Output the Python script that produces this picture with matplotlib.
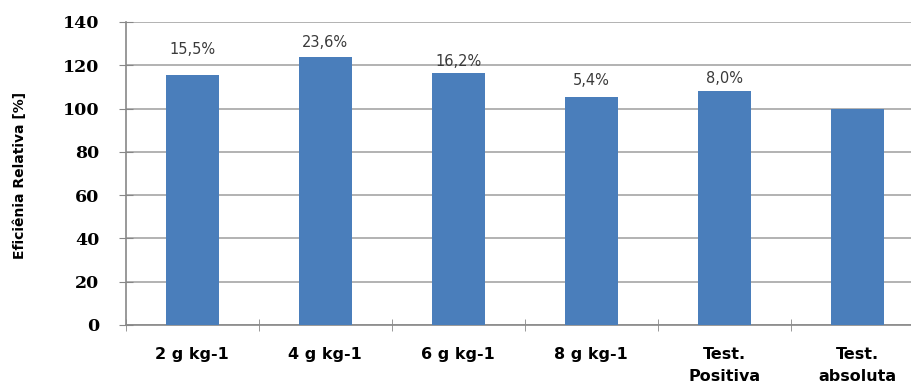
import numpy as np
import matplotlib.pyplot as plt

# data
categories = ["2 g kg-1", "4 g kg-1", "6 g kg-1", "8 g kg-1", "Test.\nPositiva", "Test.\nabsoluta"]
efficiency = [115.5, 123.6, 116.2, 105.4, 108.0, 100.0]
gain_labels = ["15,5%", "23,6%", "16,2%", "5,4%", "8,0%", ""]
y_ticks = [0, 20, 40, 60, 80, 100, 120, 140]

# vertical offset of each data label above its bar (points)
label_offsets = [10, 2, 0, 3, 1, 0]

bar_color = "#4a7ebb"
grid_color = "#a6a6a6"

fig = plt.figure(figsize=(9.12, 3.85), dpi=100)
ax = fig.add_axes([0.138, 0.156, 0.875, 0.787])

x = np.arange(len(categories))
ax.bar(x, efficiency, width=0.4, color=bar_color, zorder=3)

for xi, val, lab, off in zip(x, efficiency, gain_labels, label_offsets):
    if lab:
        ax.annotate(lab, (xi, val), xytext=(0, off + 3), textcoords="offset points",
                    ha="center", va="bottom", fontsize=10.5, color="#3a3a3a",
                    family="DejaVu Sans")

ax.set_xlim(-0.5, len(categories) - 0.5)
ax.set_ylim(0, 140)
ax.set_yticks(y_ticks)
ax.yaxis.grid(True, color=grid_color, linewidth=1.2, zorder=0)
ax.set_axisbelow(True)

for lab in ax.set_yticklabels([str(v) for v in y_ticks]):
    lab.set_fontfamily("DejaVu Serif")
    lab.set_fontweight("bold")
    lab.set_fontsize(12.5)

ax.set_xticks(x)
ax.set_xticklabels(categories, fontsize=11.5, fontweight="bold", linespacing=1.6)
ax.set_xticks(np.arange(len(categories) + 1) - 0.5, minor=True)
ax.tick_params(axis="x", which="major", length=0, pad=16)
ax.tick_params(axis="x", which="minor", length=8, direction="inout", color="#888888")
ax.tick_params(axis="y", length=10, direction="inout", color="#888888", pad=14)

for side in ["top", "right"]:
    ax.spines[side].set_visible(False)
ax.spines["left"].set_color("#888888")
ax.spines["bottom"].set_color("#888888")
ax.spines["left"].set_linewidth(1.2)
ax.spines["bottom"].set_linewidth(1.2)

fig.text(0.022, 0.545, "Eficiênia Relativa [%]", rotation=90, ha="center", va="center",
         fontsize=10, fontweight="bold", family=["Liberation Sans Narrow", "DejaVu Sans"])

fig.savefig("out.png", dpi=100)
